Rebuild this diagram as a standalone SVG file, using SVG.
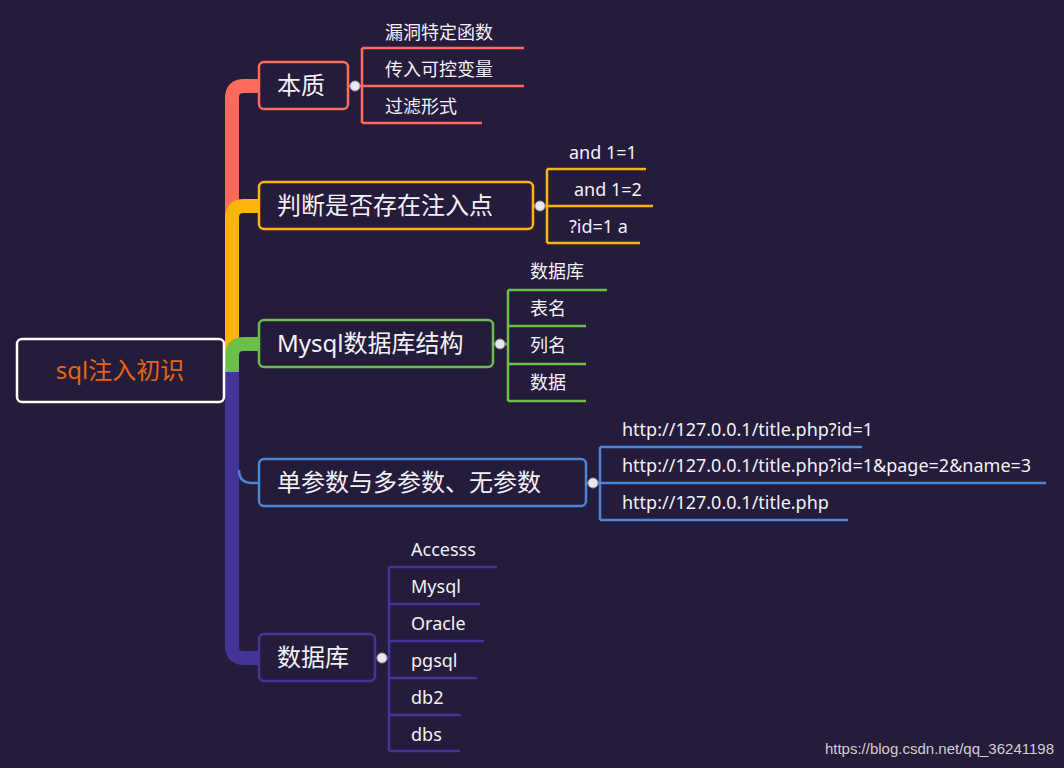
<svg xmlns="http://www.w3.org/2000/svg" width="1064" height="768" viewBox="0 0 1064 768">
<style>
.n{fill:#251b3a;stroke-width:2.5}
.t{font-family:"Noto Sans","Noto Sans CJK SC",sans-serif;fill:#f2f2f7}
.nt{font-size:24px}
.ct{font-size:18px}
.c{fill:none;stroke-width:2.5}
.th{fill:none;stroke-width:14;stroke-linecap:butt}
.k{fill:#e8e8f0;stroke:#999;stroke-width:1}
</style>
<rect width="1064" height="768" fill="#251b3a"/>
<g id="connectors">
<path class="th" stroke="#ff6b5a" d="M232,372 V98 Q232,86 244,86 H259"/>
<path class="th" stroke="#ffb30f" d="M232,372 V218 Q232,206 244,206 H259"/>
<path class="th" stroke="#43349a" d="M232,372 V646 Q232,658 244,658 H259"/>
<path class="c" stroke="#4a86d6" d="M239,470 Q239,483 252,483 H259"/>
<path class="th" stroke="#6bbf4a" d="M232,372 V356 Q232,344 244,344 H259"/>
<g stroke="#ff6b5a" class="c"><path d="M362,48 V123 M362,48 H524 M362,86 H524 M362,123 H482 M348,86 H362"/></g>
<g stroke="#ffb30f" class="c"><path d="M547,169 V243 M547,169 H646 M547,206 H653 M547,243 H640 M533,206 H547"/></g>
<g stroke="#6bbf4a" class="c"><path d="M508,290 V401 M508,290 H607 M508,326 H586 M508,364 H586 M508,401 H586 M493,344 H508"/></g>
<g stroke="#4a86d6" class="c"><path d="M600,447 V520 M600,447 H862 M600,483 H1046 M600,520 H848 M586,483 H600"/></g>
<g stroke="#43349a" class="c"><path d="M389,567 V751 M389,567 H497 M389,604 H480 M389,641 H484 M389,678 H477 M389,715 H461 M389,751 H460 M375,658 H389"/></g>
</g>
<g id="root"><rect x="17" y="339" width="207" height="63" rx="5" fill="#251b3a" stroke="#fff" stroke-width="2.5"/>
<text x="120" y="379" text-anchor="middle" class="t nt" style="fill:#e8650f">sql注入初识</text></g>
<g id="n1"><rect class="n" x="259" y="62" width="89" height="47" rx="5" stroke="#ff6b5a"/><text class="t nt" x="277" y="94">本质</text><circle class="k" cx="355" cy="86" r="5"/>
<text class="t ct" x="385" y="39">漏洞特定函数</text><text class="t ct" x="385" y="76">传入可控变量</text><text class="t ct" x="385" y="113">过滤形式</text></g>
<g id="n2"><rect class="n" x="259" y="182" width="274" height="47" rx="5" stroke="#ffb30f"/><text class="t nt" x="277" y="214">判断是否存在注入点</text><circle class="k" cx="540" cy="206" r="5"/>
<text class="t ct" x="569" y="159">and 1=1</text><text class="t ct" x="574" y="196">and 1=2</text><text class="t ct" x="569" y="233">?id=1 a</text></g>
<g id="n3"><rect class="n" x="259" y="320" width="234" height="47" rx="5" stroke="#6bbf4a"/><text class="t nt" x="277" y="352">Mysql数据库结构</text><circle class="k" cx="500" cy="344" r="5"/>
<text class="t ct" x="530" y="278">数据库</text><text class="t ct" x="530" y="315">表名</text><text class="t ct" x="530" y="352">列名</text><text class="t ct" x="530" y="389">数据</text></g>
<g id="n4"><rect class="n" x="259" y="459" width="327" height="47" rx="5" stroke="#4a86d6"/><text class="t nt" x="277" y="491">单参数与多参数、无参数</text><circle class="k" cx="593" cy="483" r="5"/>
<text class="t ct" x="622" y="436">http://127.0.0.1/title.php?id=1</text><text class="t ct" x="622" y="472">http://127.0.0.1/title.php?id=1&amp;page=2&amp;name=3</text><text class="t ct" x="622" y="509">http://127.0.0.1/title.php</text></g>
<g id="n5"><rect class="n" x="259" y="634" width="116" height="47" rx="5" stroke="#43349a"/><text class="t nt" x="277" y="666">数据库</text><circle class="k" cx="382" cy="658" r="5"/>
<text class="t ct" x="411" y="556">Accesss</text><text class="t ct" x="411" y="593">Mysql</text><text class="t ct" x="411" y="630">Oracle</text><text class="t ct" x="411" y="667">pgsql</text><text class="t ct" x="411" y="704">db2</text><text class="t ct" x="411" y="741">dbs</text></g>
<text x="1054" y="754" text-anchor="end" font-family="Liberation Sans,sans-serif" font-size="15" fill="#d0d0d0">https://blog.csdn.net/qq_36241198</text>
</svg>
